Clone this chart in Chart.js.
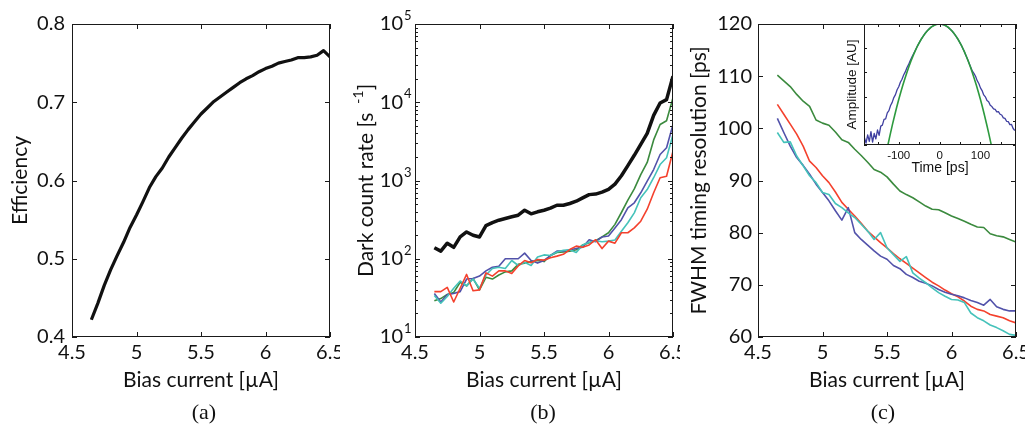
<!DOCTYPE html>
<html>
<head>
<meta charset="utf-8">
<script src="https://cdn.jsdelivr.net/npm/chart.js@4.4.1/dist/chart.umd.min.js"></script>
<style>
  html, body { margin: 0; padding: 0; background: #fff; }
  #fig { position: relative; width: 1025px; height: 428px; overflow: hidden; }
  .panel { position: absolute; top: 0; height: 428px; }
  .cap { position: absolute; top: 399px; width: 60px; line-height: 26px; text-align: center;
         font: 22px "Liberation Serif", "DejaVu Serif", serif; color: #111; }
</style>
</head>
<body>
<div id="fig">
  <div class="panel" style="left:0;width:340px"><canvas id="effChart"></canvas></div>
  <div class="panel" style="left:340px;width:340px"><canvas id="dcrChart"></canvas></div>
  <div class="panel" style="left:680px;width:345px"><canvas id="fwhmChart"></canvas></div>
  <div class="panel" style="left:820px;width:205px;height:180px"><canvas id="insetChart"></canvas></div>
  <div class="cap" style="left:174px">(a)</div>
  <div class="cap" style="left:513px">(b)</div>
  <div class="cap" style="left:853px">(c)</div>
</div>
<script>
// bias current [uA], shared by all three panels
const bias = [4.65, 4.70, 4.75, 4.80, 4.85, 4.90, 4.95, 5.00, 5.05, 5.10,
              5.15, 5.20, 5.25, 5.30, 5.35, 5.40, 5.45, 5.50, 5.55, 5.60,
              5.65, 5.70, 5.75, 5.80, 5.85, 5.90, 5.95, 6.00, 6.05, 6.10,
              6.15, 6.20, 6.25, 6.30, 6.35, 6.40, 6.45, 6.50];

// (a) detection efficiency
const efficiency = [0.422, 0.443, 0.466, 0.486, 0.504, 0.521, 0.540, 0.556, 0.573, 0.591,
                    0.605, 0.616, 0.630, 0.642, 0.654, 0.665, 0.675, 0.685, 0.693, 0.701,
                    0.707, 0.713, 0.719, 0.725, 0.730, 0.734, 0.739, 0.743, 0.746, 0.750,
                    0.752, 0.754, 0.757, 0.757, 0.758, 0.760, 0.766, 0.758];

// (b) dark count rate [1/s]
const dcrBlack = [138, 125, 158, 140, 190, 220, 200, 190, 265, 290,
                  311, 327, 344, 360, 417, 375, 398, 417, 443, 483,
                  483, 508, 544, 600, 660, 670, 710, 770, 900, 1150,
                  1550, 2100, 2900, 4000, 6800, 9800, 10800, 21500];
const dcrGreen = [29, 31, 35, 37, 50, 45, 56, 40, 58, 55,
                  62, 68, 70, 85, 88, 92, 95, 92, 110, 120,
                  122, 125, 130, 150, 160, 170, 190, 215, 275, 390,
                  560, 780, 1190, 1700, 3300, 5200, 5800, 11400];
const dcrBlue = [36, 28, 35, 36, 38, 55, 56, 60, 70, 78,
                 80, 100, 100, 100, 118, 95, 88, 95, 110, 125,
                 125, 130, 135, 140, 175, 165, 190, 195, 248, 316,
                 447, 519, 697, 980, 1380, 2150, 2620, 5200];
const dcrCyan = [34, 27, 33, 42, 52, 45, 55, 42, 62, 75,
                 78, 75, 95, 82, 90, 82, 105, 112, 110, 122,
                 128, 130, 120, 150, 162, 170, 165, 168, 174, 225,
                 288, 386, 601, 767, 1085, 1600, 1950, 3870];
const dcrRed = [38, 38, 43, 28, 42, 63, 39, 40, 66, 60,
                70, 70, 65, 81, 95, 89, 98, 96, 103, 108,
                114, 131, 145, 140, 150, 175, 135, 168, 158, 215,
                215, 248, 302, 430, 697, 1085, 1135, 2370];

// (c) FWHM timing resolution [ps]
const fwhmGreen = [110.2, 109.1, 108.0, 106.5, 105.2, 104.2, 101.6, 101.0, 100.6, 99.3,
                   97.8, 97.3, 96.0, 94.8, 93.5, 92.1, 91.6, 90.7, 89.3, 88.0,
                   87.3, 86.7, 85.9, 85.1, 84.5, 84.4, 83.8, 83.2, 82.7, 82.2,
                   81.6, 81.1, 81.0, 79.8, 79.4, 79.2, 78.7, 78.2];
const fwhmRed = [104.6, 102.7, 100.8, 98.9, 96.6, 93.7, 92.5, 90.9, 89.6, 87.8,
                 85.8, 84.5, 83.2, 81.8, 80.3, 79.2, 78.1, 77.1, 76.0, 75.0,
                 74.1, 73.2, 72.3, 71.4, 70.5, 69.8, 69.0, 68.3, 67.7, 66.9,
                 65.9, 65.3, 65.0, 64.3, 64.0, 63.7, 63.1, 62.7];
const fwhmBlue = [101.9, 99.2, 96.6, 94.4, 92.9, 91.2, 89.3, 87.7, 86.1, 84.2,
                  82.4, 84.8, 80.0, 78.7, 77.6, 76.5, 75.5, 74.9, 73.7, 73.1,
                  72.0, 71.4, 70.7, 70.3, 69.8, 69.1, 68.6, 68.2, 67.9, 67.5,
                  67.0, 66.6, 66.1, 67.2, 65.8, 65.3, 65.0, 65.0];
const fwhmCyan = [99.2, 97.3, 97.4, 94.7, 92.8, 90.9, 89.6, 87.7, 87.3, 85.6,
                  84.8, 83.8, 82.9, 81.6, 80.3, 78.7, 80.0, 77.1, 75.8, 74.5,
                  75.4, 72.3, 71.3, 70.4, 69.4, 68.5, 67.8, 67.2, 67.1, 66.6,
                  64.6, 63.7, 63.1, 62.3, 61.8, 61.2, 60.5, 60.3];

// (c) inset: timing histogram, amplitude as log10 (log axis, labels hidden)
const insetTime = [-184, -180, -176, -172, -168, -164, -160, -156, -152, -148,
                   -144, -140, -136, -132, -128, -124, -120, -116, -112, -108,
                   -104, -100, -96, -92, -88, -84, -80, -76, -72, -68,
                   -64, -60, -56, -52, -48, -44, -40, -36, -32, -28,
                   -24, -20, -16, -12, -8, -4, 0, 4, 8, 12,
                   16, 20, 24, 28, 32, 36, 40, 44, 48, 52,
                   56, 60, 64, 68, 72, 76, 80, 84, 88, 92,
                   96, 100, 104, 108, 112, 116, 120, 124, 128, 132,
                   136, 140, 144, 148, 152, 156, 160, 164, 168, 172,
                   176, 180, 184];
const insetMeasured = [0.30, 0.08, 0.42, 0.15, 0.55, 0.12, 0.48, 0.25, 0.62, 0.40,
                       0.78, 0.82, 1.06, 1.08, 1.33, 1.42, 1.63, 1.76, 1.96, 2.08,
                       2.28, 2.41, 2.59, 2.72, 2.89, 3.02, 3.19, 3.32, 3.48, 3.62,
                       3.76, 3.89, 4.03, 4.16, 4.28, 4.40, 4.50, 4.60, 4.68, 4.76,
                       4.82, 4.88, 4.92, 4.96, 4.98, 5.00, 5.00, 4.99, 4.98, 4.95,
                       4.92, 4.87, 4.82, 4.75, 4.68, 4.59, 4.50, 4.40, 4.28, 4.16,
                       4.02, 3.88, 3.72, 3.56, 3.39, 3.22, 3.06, 2.96, 2.84, 2.66,
                       2.54, 2.36, 2.25, 2.07, 1.99, 1.84, 1.79, 1.64, 1.59, 1.49,
                       1.47, 1.37, 1.38, 1.27, 1.24, 1.12, 1.10, 0.98, 0.97, 0.84,
                       0.85, 0.68, 0.60];
const fitTime = [-130, -125, -120, -115, -110, -105, -100, -95, -90, -85,
                 -80, -75, -70, -65, -60, -55, -50, -45, -40, -35,
                 -30, -25, -20, -15, -10, -5, 0, 5, 10, 15,
                 20, 25, 30, 35, 40, 45, 50, 55, 60, 65,
                 70, 75, 80, 85, 90, 95, 100, 105, 110, 115,
                 120, 125, 130];
const fitGauss = [-0.28, 0.12, 0.50, 0.87, 1.22, 1.56, 1.88, 2.18, 2.47, 2.74,
                  3.00, 3.24, 3.47, 3.68, 3.88, 4.06, 4.22, 4.37, 4.50, 4.62,
                  4.72, 4.80, 4.88, 4.93, 4.97, 4.99, 5.00, 4.99, 4.97, 4.93,
                  4.88, 4.80, 4.72, 4.62, 4.50, 4.37, 4.22, 4.06, 3.88, 3.68,
                  3.47, 3.24, 3.00, 2.74, 2.47, 2.18, 1.88, 1.56, 1.22, 0.87,
                  0.50, 0.12, -0.28];

// tick values and labels
const biasTicks = [4.5, 5, 5.5, 6, 6.5];
const effTicks = [0.4, 0.5, 0.6, 0.7, 0.8];
const dcrDecades = [1, 2, 3, 4, 5];
const fwhmTicks = [60, 70, 80, 90, 100, 110, 120];
const timeTicks = [-150, -100, -50, 0, 50, 100, 150];
const timeLabels = [-100, 0, 100];
const ampDecades = [0, 1, 2, 3, 4, 5];

const MAIN = 'Lato';
const SMALL = '"Liberation Sans", Arial, sans-serif';
Chart.defaults.font.family = MAIN;
Chart.defaults.color = '#111';

const tickFont = { family: MAIN, size: 20 };
const titleFont = { family: MAIN, size: 21 };
const noGrid = { display: false, drawTicks: false };

// fix an axis box to an exact size so every panel lines up with the figure
const fit = size => s => {
    if (s.isHorizontal()) s.height = size; else s.width = size;
    s.paddingLeft = s.paddingRight = s.paddingTop = s.paddingBottom = 0;
};
const useTicks = list => s => { s.ticks = list.map(v => ({ value: v })); };
const pts = (xs, ys) => xs.map((x, i) => ({ x, y: ys[i] }));
const line = (data, color, width) => ({ data, borderColor: color, borderWidth: width, fill: false });

// MATLAB-like box with inward ticks on all four sides
const framePlugin = {
    id: 'frame',
    afterDraw(chart, args, opts) {
        const { ctx, chartArea: a, scales: { x, y } } = chart;
        const len = opts.len || 5;
        ctx.save();
        ctx.strokeStyle = '#1a1a1a';
        ctx.lineWidth = 1;
        ctx.beginPath();
        x.ticks.forEach(t => {
            const px = Math.round(x.getPixelForValue(t.value)) + 0.5;
            ctx.moveTo(px, a.bottom); ctx.lineTo(px, a.bottom - len);
            ctx.moveTo(px, a.top); ctx.lineTo(px, a.top + len);
        });
        const yt = y.ticks.map(t => ({ v: t.value, l: len }));
        (opts.minorY || []).forEach(v => yt.push({ v, l: Math.round(len * 0.6) }));
        yt.forEach(t => {
            const py = Math.round(y.getPixelForValue(t.v)) + 0.5;
            ctx.moveTo(a.left, py); ctx.lineTo(a.left + t.l, py);
            ctx.moveTo(a.right, py); ctx.lineTo(a.right - t.l, py);
        });
        ctx.stroke();
        ctx.strokeRect(Math.round(a.left) + 0.5, Math.round(a.top) + 0.5,
                       Math.round(a.right - a.left) - 1, Math.round(a.bottom - a.top) - 1);
        ctx.restore();
    }
};
Chart.register(framePlugin);

const xAxis = () => ({
    type: 'linear', min: 4.5, max: 6.5,
    afterBuildTicks: useTicks(biasTicks), afterFit: fit(91),
    grid: noGrid, border: { display: false },
    ticks: { padding: 4, font: tickFont, maxRotation: 0, autoSkip: false, callback: v => String(v) },
    title: { display: true, text: 'Bias current [\u00b5A]', font: titleFont, padding: { bottom: 35 } }
});

const baseOptions = (padding, scales, frame) => ({
    responsive: true, maintainAspectRatio: false, animation: false,
    layout: { padding },
    plugins: { legend: { display: false }, tooltip: { enabled: false }, frame: frame || {} },
    elements: { point: { radius: 0 }, line: { tension: 0, borderJoinStyle: 'round' } },
    scales
});

// (a)
new Chart(document.getElementById('effChart'), {
    type: 'line',
    data: { datasets: [line(pts(bias, efficiency), '#111', 3.2)] },
    options: baseOptions({ top: 24, right: 10, left: 0, bottom: 0 }, {
        x: xAxis(),
        y: {
            type: 'linear', min: 0.4, max: 0.8,
            afterBuildTicks: useTicks(effTicks), afterFit: fit(72),
            grid: noGrid, border: { display: false },
            ticks: { padding: 7, font: tickFont },
            title: { display: true, text: 'Efficiency', font: titleFont, padding: { top: 8 } }
        }
    })
});

// (b) log axis: powers of ten and the superscripted title are drawn by hand
const dcrLabels = {
    id: 'dcrLabels',
    afterDraw(chart) {
        const { ctx, chartArea: a } = chart;
        const ys = chart.scales.y;
        ctx.save();
        ctx.fillStyle = '#111';
        dcrDecades.forEach(k => {
            const py = ys.getPixelForValue(Math.pow(10, k));
            ctx.font = '20px ' + MAIN;
            ctx.textAlign = 'right';
            ctx.textBaseline = 'middle';
            ctx.fillText('10', a.left - 12, py);
            ctx.font = '13px ' + MAIN;
            ctx.textAlign = 'left';
            ctx.fillText(String(k), a.left - 11, py - 8);
        });
        const main = 'Dark count rate [s', sup = '-1', end = ']';
        ctx.font = '21px ' + MAIN;
        const w1 = ctx.measureText(main).width, w3 = ctx.measureText(end).width;
        ctx.font = '14px ' + MAIN;
        const w2 = ctx.measureText(sup).width;
        const gap = 9;
        const total = w1 + gap + w2 + w3;
        ctx.translate(26, (a.top + a.bottom) / 2);
        ctx.rotate(-Math.PI / 2);
        ctx.textAlign = 'left';
        ctx.textBaseline = 'middle';
        let cx = -total / 2;
        ctx.font = '21px ' + MAIN;
        ctx.fillText(main, cx, 0);
        cx += w1 + gap;
        ctx.font = '14px ' + MAIN;
        ctx.fillText(sup, cx, -8);
        cx += w2;
        ctx.font = '21px ' + MAIN;
        ctx.fillText(end, cx, 0);
        ctx.restore();
    }
};

const dcrMinor = dcrDecades.slice(0, -1).flatMap(k => [2, 3, 4, 5, 6, 7, 8, 9].map(m => m * Math.pow(10, k)));

// dataset 0 is painted last (on top)
new Chart(document.getElementById('dcrChart'), {
    type: 'line',
    data: {
        datasets: [
            line(pts(bias, dcrBlack), '#111', 3.5),
            line(pts(bias, dcrRed), '#f4412d', 1.6),
            line(pts(bias, dcrCyan), '#45c2ba', 1.6),
            line(pts(bias, dcrBlue), '#5252aa', 1.6),
            line(pts(bias, dcrGreen), '#3b8a3e', 1.6)
        ]
    },
    options: baseOptions({ top: 24, right: 7, left: 0, bottom: 0 }, {
        x: xAxis(),
        y: {
            type: 'logarithmic', min: 10, max: 100000,
            afterBuildTicks: s => { s.ticks = dcrDecades.map(k => ({ value: Math.pow(10, k) })); },
            afterFit: fit(75),
            grid: noGrid, border: { display: false },
            ticks: { display: false },
            title: { display: false }
        }
    }, { minorY: dcrMinor }),
    plugins: [dcrLabels]
});

// (c)
new Chart(document.getElementById('fwhmChart'), {
    type: 'line',
    data: {
        datasets: [
            line(pts(bias, fwhmCyan), '#45c2ba', 1.6),
            line(pts(bias, fwhmBlue), '#5252aa', 1.6),
            line(pts(bias, fwhmRed), '#f4412d', 1.6),
            line(pts(bias, fwhmGreen), '#3b8a3e', 1.6)
        ]
    },
    options: baseOptions({ top: 24, right: 9, left: 0, bottom: 0 }, {
        x: xAxis(),
        y: {
            type: 'linear', min: 60, max: 120,
            afterBuildTicks: useTicks(fwhmTicks), afterFit: fit(78),
            grid: noGrid, border: { display: false },
            ticks: { padding: 6, font: tickFont },
            title: { display: true, text: 'FWHM timing resolution [ps]', font: titleFont, padding: { top: 7 } }
        }
    })
});

// (c) inset
const whiteArea = {
    id: 'whiteArea',
    beforeDraw(chart) {
        const { ctx, chartArea: a } = chart;
        ctx.save();
        ctx.fillStyle = '#fff';
        ctx.fillRect(a.left, a.top, a.right - a.left, a.bottom - a.top);
        ctx.restore();
    }
};

new Chart(document.getElementById('insetChart'), {
    type: 'line',
    data: {
        datasets: [
            line(pts(fitTime, fitGauss.map(v => Math.pow(10, v))), '#2d9a3e', 1.6),
            line(pts(insetTime, insetMeasured.map(v => Math.pow(10, v))), '#3f3fa0', 1.3)
        ]
    },
    options: baseOptions({ top: 24, right: 9, left: 0, bottom: 0 }, {
        x: {
            type: 'linear', min: -185, max: 187,
            afterBuildTicks: useTicks(timeTicks), afterFit: fit(35),
            grid: noGrid, border: { display: false },
            ticks: {
                padding: 4, maxRotation: 0, autoSkip: false,
                font: { family: SMALL, size: 11.5 },
                callback: v => timeLabels.includes(v) ? String(v) : ''
            },
            title: { display: true, text: 'Time [ps]', font: { family: SMALL, size: 14 }, padding: { top: 0, bottom: 3 } }
        },
        y: {
            type: 'logarithmic', min: 1, max: 100000,
            afterBuildTicks: s => { s.ticks = ampDecades.map(k => ({ value: Math.pow(10, k) })); },
            afterFit: fit(44),
            grid: noGrid, border: { display: false },
            ticks: { display: false },
            title: { display: true, text: 'Amplitude [AU]', font: { family: SMALL, size: 13.5 }, padding: { top: 24 } }
        }
    }, { len: 3 }),
    plugins: [whiteArea]
});
</script>
</body>
</html>
